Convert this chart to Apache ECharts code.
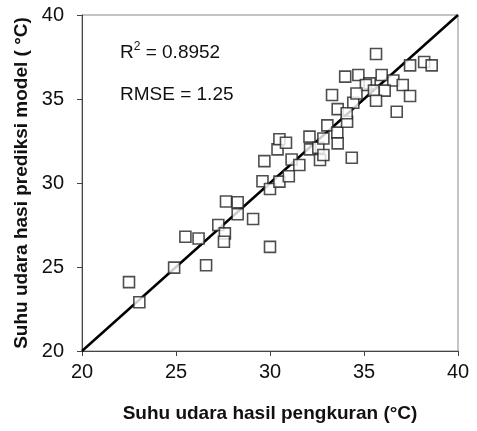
<!DOCTYPE html>
<html>
<head>
<meta charset="utf-8">
<script src="https://cdn.jsdelivr.net/npm/echarts@6/dist/echarts.min.js"></script>
<style>
  html, body { margin: 0; padding: 0; background: #fff; }
  #chart { width: 477px; height: 431px; }
</style>
</head>
<body>
<div id="chart"></div>
<script>
const measured = [
  22.5, 23.05, 24.9, 26.6, 25.5, 26.2, 27.25, 27.6, 27.55, 27.66,
  28.28, 28.28, 29.1, 30.0, 29.6, 30.0, 30.5, 31.0, 29.7, 30.4,
  30.5, 30.85, 31.15, 31.56, 32.1, 32.13, 32.57, 32.66, 32.84, 33.05,
  33.58, 33.6, 34.1, 34.35, 33.6, 34.43, 35.64, 34.0, 34.7, 35.3,
  35.94, 35.1, 36.56, 37.06, 37.45, 38.2, 38.6, 33.3, 34.6, 35.53,
  36.1, 37.45, 35.64, 36.74, 34.08, 32.84
]
const predicted = [
  24.1, 22.9, 24.96, 25.1, 26.8, 26.7, 27.5, 27.0, 26.5, 28.9,
  28.85, 28.14, 27.86, 26.2, 30.1, 29.64, 30.08, 30.4, 31.3, 32.0,
  32.6, 32.4, 31.4, 31.07, 32.76, 32.0, 32.1, 31.37, 32.65, 33.43,
  33.0, 32.36, 33.65, 31.5, 34.4, 34.78, 37.68, 36.33, 36.43, 35.93,
  36.43, 35.83, 36.1, 35.83, 37.0, 37.2, 37.0, 35.24, 35.33, 35.5,
  35.5, 35.18, 34.9, 34.24, 34.15, 31.67
]
// 1:1 line
const lineX = [20, 40]
const lineY = [20, 40]
const ticks = [20, 25, 30, 35, 40]

const font = 'Liberation Sans, Arial, sans-serif'
const chart = echarts.init(document.getElementById('chart'))

const option = {
  animation: false,
  backgroundColor: '#fff',
  grid: {
    left: 82,
    right: 19,
    top: 15,
    bottom: 80,
    show: true,
    borderColor: '#888',
    borderWidth: 1
  },
  xAxis: {
    type: 'value',
    min: ticks[0],
    max: ticks[ticks.length - 1],
    interval: 5,
    name: 'Suhu udara hasil pengkuran (°C)',
    nameLocation: 'middle',
    nameGap: 63,
    nameTextStyle: {
      fontFamily: font,
      fontWeight: 'bold',
      fontSize: 19,
      color: '#111',
      verticalAlign: 'middle'
    },
    axisLine: { lineStyle: { color: '#444', width: 1 } },
    axisTick: { show: true, length: 5, lineStyle: { color: '#444' } },
    axisLabel: { fontFamily: font, fontSize: 20, color: '#111', margin: 11 },
    splitLine: { show: false }
  },
  yAxis: {
    type: 'value',
    min: ticks[0],
    max: ticks[ticks.length - 1],
    interval: 5,
    name: 'Suhu udara hasi prediksi model ( °C)',
    nameLocation: 'middle',
    nameGap: 55,
    nameRotate: 90,
    nameTextStyle: {
      fontFamily: font,
      fontWeight: 'bold',
      fontSize: 19,
      color: '#111',
      verticalAlign: 'middle'
    },
    axisLine: { show: true, lineStyle: { color: '#444', width: 1 } },
    axisTick: { show: true, length: 5, lineStyle: { color: '#444' } },
    axisLabel: { fontFamily: font, fontSize: 20, color: '#111', margin: 18 },
    splitLine: { show: false }
  },
  graphic: [
    {
      type: 'text',
      left: 120,
      top: 41,
      style: {
        text: '{b|R}{s|2}{b| = 0.8952}',
        rich: {
          b: { fontFamily: font, fontSize: 19, fill: '#111', verticalAlign: 'bottom' },
          s: { fontFamily: font, fontSize: 12, fill: '#111', verticalAlign: 'top', padding: [0, 0, 9, 0] }
        }
      }
    },
    {
      type: 'text',
      left: 120,
      top: 85,
      style: {
        text: 'RMSE = 1.25',
        fontFamily: font,
        fontSize: 19,
        fill: '#111'
      }
    }
  ],
  series: [
    {
      type: 'line',
      data: lineX.map((x, i) => [x, lineY[i]]),
      symbol: 'none',
      lineStyle: { color: '#000', width: 2.5 },
      z: 2
    },
    {
      type: 'scatter',
      data: measured.map((x, i) => [x, predicted[i]]),
      symbol: 'rect',
      symbolSize: 11,
      itemStyle: { color: '#fff', borderColor: '#222', borderWidth: 1.6 },
      z: 3
    }
  ]
}

chart.setOption(option)
</script>
</body>
</html>
